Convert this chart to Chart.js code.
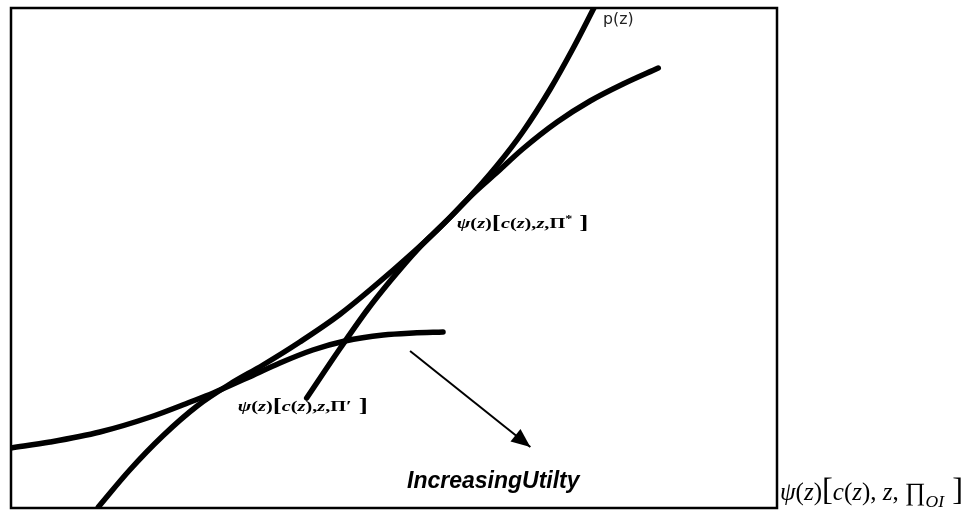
<!DOCTYPE html>
<html>
<head>
<meta charset="utf-8">
<script src="https://cdn.jsdelivr.net/npm/chart.js@4.4.0/dist/chart.umd.min.js"></script>
<style>
  html, body { margin: 0; padding: 0; background: #fff; }
  canvas { display: block; }
</style>
</head>
<body>
<canvas id="chart" width="974" height="512"></canvas>
<script>
// values (x: 0-100 across the box, y: 0-100 up the box)
const pzX = [11.4, 15.5, 19.8, 24.3, 28.6, 32.9, 37.7, 43.0, 49.9, 55.1, 59.5, 63.4, 66.8, 70.4, 73.4, 76.1];
const pzY = [0.2, 7.6, 14.4, 20.4, 24.8, 28.6, 33.2, 38.8, 47.6, 54.8, 61.6, 68.4, 75.2, 83.8, 92.0, 100];

const psiStarX = [38.6, 43.0, 46.5, 49.5, 53.0, 56.7, 60.3, 63.5, 66.8, 71.3, 75.6, 79.9, 84.5];
const psiStarY = [22.0, 32.0, 39.6, 45.4, 51.6, 57.2, 62.8, 67.2, 71.8, 77.2, 81.4, 84.8, 88.0];

const psiPrimeX = [0, 5.1, 11.6, 18.2, 23.4, 26.4, 30.8, 35.1, 39.4, 43.6, 48.6, 52.5, 56.4];
const psiPrimeY = [12.0, 13.2, 15.2, 18.2, 21.2, 23.0, 26.0, 29.0, 31.6, 33.4, 34.6, 35.0, 35.2];

const arrowX = [52.1, 67.8];
const arrowY = [31.4, 12.2];

const pts = (xs, ys) => xs.map((x, i) => ({x: x, y: ys[i]}));

// text placed in the same data units
const notes = [
    {x: 77.3, y: 96.8, size: 15, family: 'DejaVu Sans', color: '#222', stretch: 1.05,
        parts: [{t: 'p(z)'}]},
    {x: 58.2, y: 56.0, size: 14, family: 'Liberation Serif', color: '#000', stretch: 1.45,
        parts: [{t: 'ψ', s: 'bold italic'}, {t: '(', s: 'bold'}, {t: 'z', s: 'bold italic'}, {t: ')', s: 'bold'},
                {t: '[', s: 'bold', k: 1.35}, {t: 'c', s: 'bold italic'}, {t: '(', s: 'bold'}, {t: 'z', s: 'bold italic'},
                {t: '),', s: 'bold'}, {t: 'z', s: 'bold italic'}, {t: ',Π', s: 'bold'}, {t: '*', s: 'bold', k: 0.7, dy: -0.4},
                {t: ' ]', s: 'bold', k: 1.35}]},
    {x: 29.6, y: 19.4, size: 14, family: 'Liberation Serif', color: '#000', stretch: 1.45,
        parts: [{t: 'ψ', s: 'bold italic'}, {t: '(', s: 'bold'}, {t: 'z', s: 'bold italic'}, {t: ')', s: 'bold'},
                {t: '[', s: 'bold', k: 1.35}, {t: 'c', s: 'bold italic'}, {t: '(', s: 'bold'}, {t: 'z', s: 'bold italic'},
                {t: '),', s: 'bold'}, {t: 'z', s: 'bold italic'}, {t: ',Π', s: 'bold'}, {t: '′', s: 'bold', dy: 0},
                {t: ' ]', s: 'bold', k: 1.35}]},
    {x: 51.7, y: 4.0, size: 23, family: 'Liberation Sans', color: '#000', stretch: 1,
        parts: [{t: 'IncreasingUtilty', s: 'italic bold'}]},
    {x: 100.4, y: 1.6, size: 25, family: 'Liberation Serif', color: '#000', stretch: 1,
        parts: [{t: 'ψ', s: 'italic'}, {t: '('}, {t: 'z', s: 'italic'}, {t: ')'}, {t: '[', k: 1.3},
                {t: 'c', s: 'italic'}, {t: '('}, {t: 'z', s: 'italic'}, {t: '), '}, {t: 'z', s: 'italic'}, {t: ', '},
                {t: '∏'}, {t: 'OI', s: 'italic', k: 0.7, dy: 0.28}, {t: ' ]', k: 1.3}]}
];

function drawRich(ctx, x, y, n) {
    ctx.save();
    ctx.translate(x, y);
    ctx.scale(n.stretch, 1);
    ctx.fillStyle = n.color;
    ctx.textBaseline = 'alphabetic';
    let cx = 0;
    n.parts.forEach(p => {
        ctx.font = (p.s || '') + ' ' + (n.size * (p.k || 1)) + 'px "' + n.family + '"';
        ctx.fillText(p.t, cx, (p.dy || 0) * n.size);
        cx += ctx.measureText(p.t).width;
    });
    ctx.restore();
}

const decorations = {
    id: 'decorations',
    afterDraw(chart) {
        const ctx = chart.ctx;
        const a = chart.chartArea;
        const sx = chart.scales.x, sy = chart.scales.y;

        ctx.save();
        ctx.strokeStyle = '#000';
        ctx.lineWidth = 2.5;
        ctx.strokeRect(a.left, a.top, a.right - a.left, a.bottom - a.top);

        // arrow head at the end of the arrow dataset
        const x0 = sx.getPixelForValue(arrowX[0]), y0 = sy.getPixelForValue(arrowY[0]);
        const x1 = sx.getPixelForValue(arrowX[1]), y1 = sy.getPixelForValue(arrowY[1]);
        const ang = Math.atan2(y1 - y0, x1 - x0);
        const len = 19, half = 8;
        ctx.fillStyle = '#000';
        ctx.beginPath();
        ctx.moveTo(x1, y1);
        ctx.lineTo(x1 - len * Math.cos(ang) + half * Math.sin(ang), y1 - len * Math.sin(ang) - half * Math.cos(ang));
        ctx.lineTo(x1 - len * Math.cos(ang) - half * Math.sin(ang), y1 - len * Math.sin(ang) + half * Math.cos(ang));
        ctx.closePath();
        ctx.fill();

        notes.forEach(n => drawRich(ctx, sx.getPixelForValue(n.x), sy.getPixelForValue(n.y), n));
        ctx.restore();
    }
};

const curve = (data, w) => ({
    data: data,
    showLine: true,
    borderColor: '#000',
    borderWidth: w,
    borderCapStyle: 'round',
    cubicInterpolationMode: 'monotone',
    pointRadius: 0,
    pointHoverRadius: 0
});

new Chart(document.getElementById('chart').getContext('2d'), {
    type: 'scatter',
    data: {
        datasets: [
            curve(pts(pzX, pzY), 5.5),
            curve(pts(psiStarX, psiStarY), 5.5),
            curve(pts(psiPrimeX, psiPrimeY), 5.5),
            Object.assign(curve(pts(arrowX, arrowY), 2), {cubicInterpolationMode: 'default', tension: 0, borderCapStyle: 'butt'})
        ]
    },
    options: {
        responsive: false,
        devicePixelRatio: 1,
        animation: false,
        layout: {padding: {left: 11, top: 8, right: 197, bottom: 4}},
        plugins: {legend: {display: false}, tooltip: {enabled: false}},
        scales: {
            x: {type: 'linear', min: 0, max: 100, display: false},
            y: {type: 'linear', min: 0, max: 100, display: false}
        }
    },
    plugins: [decorations]
});
</script>
</body>
</html>
